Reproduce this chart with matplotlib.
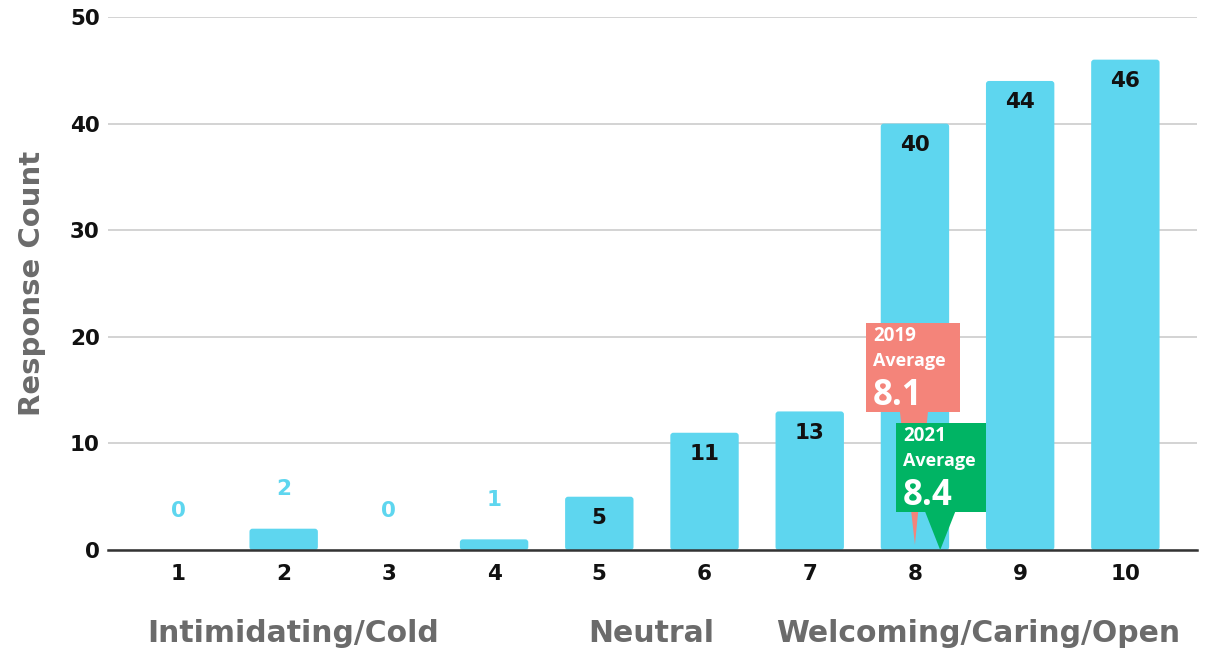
import matplotlib
matplotlib.use("Agg")
import matplotlib.pyplot as plt
from matplotlib.patches import FancyBboxPatch, Polygon, Rectangle

scores = [1, 2, 3, 4, 5, 6, 7, 8, 9, 10]
counts = [0, 2, 0, 1, 5, 11, 13, 40, 44, 46]
yticks = [0, 10, 20, 30, 40, 50]
scale_labels = ["Intimidating/Cold", "Neutral", "Welcoming/Caring/Open"]
avg_years = ["2019", "2021"]
avg_values = [8.1, 8.4]

bar_color = "#5ED6EF"
avg_colors = ["#F4847A", "#00B464"]
grey = "#6B6B6B"
font = "DejaVu Sans"

W, H = 1209, 654
fig = plt.figure(figsize=(W / 100, H / 100), dpi=100)
ax_rect = [0.0893, 0.159, 0.9007, 0.815]
ax = fig.add_axes(ax_rect)
ax.set_xlim(0.33, 10.68)
ax.set_ylim(0, 50)

# data units per pixel
px = (ax.get_xlim()[1] - ax.get_xlim()[0]) / (ax_rect[2] * W)
py = 50 / (ax_rect[3] * H)

ax.set_yticks(yticks)
ax.grid(axis="y", color="#cccccc", linewidth=1.2)
ax.set_axisbelow(True)
for s in ["top", "right", "left"]:
    ax.spines[s].set_visible(False)
ax.spines["bottom"].set_color("#333333")
ax.spines["bottom"].set_linewidth(1.8)
ax.spines["bottom"].set_zorder(5)
ax.tick_params(length=0)
ax.set_xticks(scores)
ax.set_xticklabels([str(s) for s in scores])
for lab in ax.get_xticklabels() + ax.get_yticklabels():
    lab.set_fontfamily(font)
    lab.set_fontweight("bold")
    lab.set_fontsize(15.5)
    lab.set_color("#111111")
ax.tick_params(axis="x", pad=10)
ax.tick_params(axis="y", pad=6)

ax.set_ylabel("Response Count", fontsize=21, fontweight="bold", color=grey,
              family=font, labelpad=17)

# bars with slightly rounded corners
width = 0.65
r = 3 * px
for x, v in zip(scores, counts):
    if v > 0:
        ax.add_patch(FancyBboxPatch((x - width / 2, 0), width, v,
                                    boxstyle=f"round,pad=0,rounding_size={r}",
                                    mutation_aspect=py / px,
                                    facecolor=bar_color, edgecolor="none", zorder=2))
    if v >= 5:
        ax.text(x, v - 2.0, str(v), ha="center", va="center", fontsize=15.5,
                fontweight="bold", family=font, color="#111111", zorder=3)
    else:
        ax.text(x, v + 3.7, str(v), ha="center", va="center", fontsize=15.5,
                fontweight="bold", family=font, color=bar_color, zorder=3)

# average callouts: box with a pointer down to the axis
boxes = [
    dict(left=-49 * px, w=94 * px, bottom=(550 - 412) * py, h=89 * py,
         base=(-15 * px, 13 * px), tip_y=0.5),
    dict(left=-44 * px, w=90 * px, bottom=(550 - 512) * py, h=89 * py,
         base=(-15 * px, 15 * px), tip_y=0.0),
]
tips = [8.0, 8.24]
for i, (yr, val, col, b) in enumerate(zip(avg_years, avg_values, avg_colors, boxes)):
    tx = tips[i]
    z = 6 + i
    ax.add_patch(Rectangle((tx + b["left"], b["bottom"]), b["w"], b["h"],
                           facecolor=col, edgecolor="none", zorder=z, clip_on=False))
    ax.add_patch(Polygon([(tx + b["base"][0], b["bottom"] + 0.01),
                          (tx + b["base"][1], b["bottom"] + 0.01),
                          (tx, b["tip_y"])],
                         closed=True, facecolor=col, edgecolor="none", zorder=z))
    x0 = tx + b["left"] + 7 * px
    top = b["bottom"] + b["h"]
    ax.text(x0, top - 18 * py, yr, ha="left", va="baseline", fontsize=13.5,
            fontweight="bold", family="Open Sans", color="white", zorder=z + 0.5)
    ax.text(x0, top - 43 * py, "Average", ha="left", va="baseline", fontsize=13,
            fontweight="bold", family="Open Sans", color="white", zorder=z + 0.5)
    ax.text(x0, top - 82 * py, f"{val:.1f}", ha="left", va="baseline", fontsize=25,
            fontweight="bold", family="Open Sans", color="white", zorder=z + 0.5)

# scale descriptors under the axis
for label, cx in zip(scale_labels, [293, 651, 978]):
    fig.text(cx / W, 1 - 634 / H, label, ha="center", va="center",
             fontsize=21.5, fontweight="bold", family=font, color=grey)

fig.savefig("out.png", dpi=100, facecolor="white")
